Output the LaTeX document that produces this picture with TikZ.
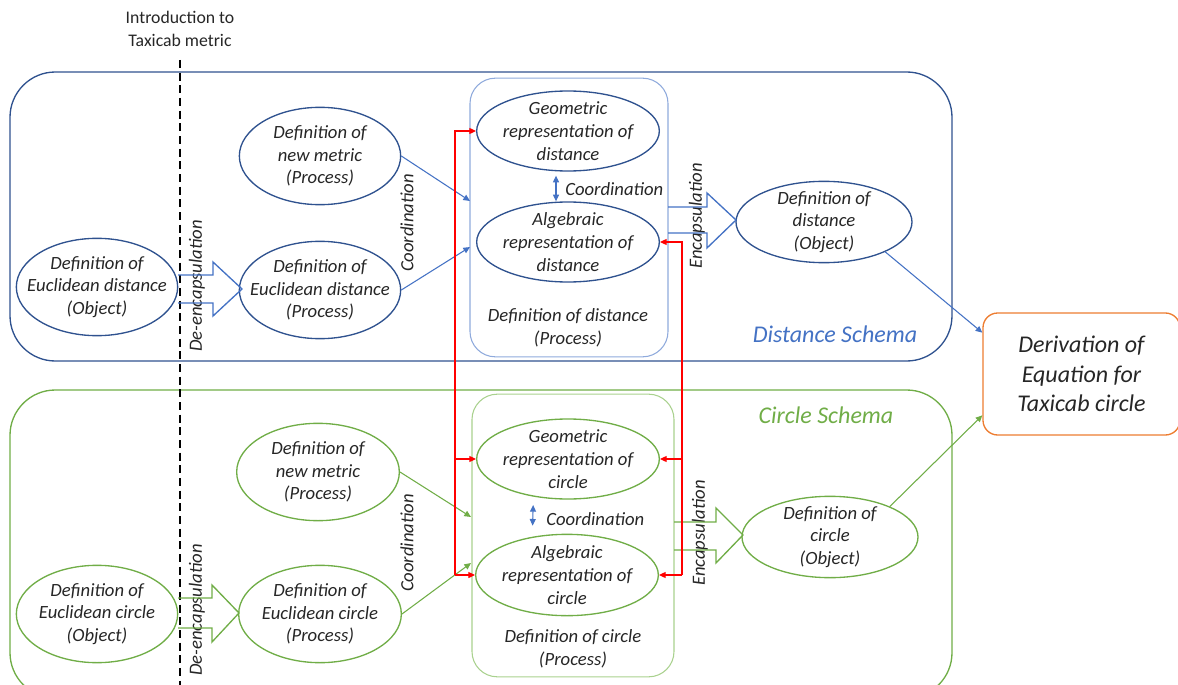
\documentclass[tikz,border=0pt]{standalone}
\usepackage{fontspec}
\setmainfont{Carlito}
\usetikzlibrary{arrows.meta,positioning,shapes.geometric}
\definecolor{schemablue}{HTML}{2F528F}
\definecolor{lineblue}{HTML}{4472C4}
\definecolor{paleblue}{HTML}{8FAADC}
\definecolor{schemagreen}{HTML}{70AD47}
\definecolor{palegreen}{HTML}{A9D18E}
\definecolor{derivorange}{HTML}{ED7D31}
\definecolor{textgray}{HTML}{262626}

\begin{document}
\begin{tikzpicture}[
        x=0.75pt, y=-0.75pt,
        font=\fontsize{14}{17}\selectfont\itshape,
        text=textgray,
        % Styles
        schema/.style={rectangle, rounded corners=34pt, line width=1pt, minimum width=706.5pt},
        inbox/.style={rectangle, rounded corners=19pt, line width=0.8pt},
        bigell/.style={ellipse, line width=1pt, align=center, inner sep=-12pt, minimum width=121pt, minimum height=73pt},
        repell/.style={ellipse, line width=1pt, align=center, inner sep=-12pt, minimum width=137pt, minimum height=60pt},
        objell/.style={ellipse, line width=1pt, align=center, inner sep=-12pt, minimum width=132pt, minimum height=61pt},
        sidetext/.style={rotate=90, inner sep=0pt},
        schemalabel/.style={font=\fontsize{18}{22}\selectfont\itshape},
        arrow/.style={line width=0.8pt, -{Triangle[length=5pt,width=4.5pt]}},
        twoway/.style={line width=0.8pt, {Triangle[length=5pt,width=4.5pt]}-{Triangle[length=5pt,width=4.5pt]}},
        redarrow/.style={line width=0.9pt, red, -{Triangle[length=5pt,width=4.5pt]}},
        blockarrow/.style={line width=1pt, line join=miter}
    ]
    \useasboundingbox (0,0) rectangle (1178,685);

    % Schema boxes
    \node (distschema) [schema, draw=schemablue, minimum height=216.75pt] at (481,216.5) {};
    \node (circschema) [schema, draw=schemagreen, minimum height=231pt] at (481,544) {};
    \node (distlabel) [schemalabel, text=lineblue] at (835,334) {Distance Schema};
    \node (circlabel) [schemalabel, text=schemagreen] at (826,415) {Circle Schema};

    % Introduction line
    \node (intro) [font=\fontsize{13.3}{17.3}\selectfont\upshape, align=center] at (180,29) {Introduction to\\Taxicab metric};
    \coordinate (dashtop) at (180,60);
    \coordinate (dashbot) at (180,690);
    \draw [line width=0.9pt, dash pattern=on 6pt off 3.5pt] (dashtop) -- (dashbot);

    % Process boxes
    \node (distproc) [inbox, draw=paleblue, minimum width=148.5pt, minimum height=209pt] at (569,217.5) {};
    \node (circproc) [inbox, draw=palegreen, minimum width=151.5pt, minimum height=212pt] at (573,535.5) {};
    \node (distproclabel) [align=center] at (568,328) {Definition of distance\\(Process)};
    \node (circproclabel) [align=center] at (573,649) {Definition of circle\\(Process)};

    % Distance nodes
    \node (edobj) [bigell, draw=schemablue] at (97,287) {Definition of\\Euclidean distance\\(Object)};
    \node (dmetric) [bigell, draw=schemablue] at (320,156) {Definition of\\new metric\\(Process)};
    \node (edproc) [bigell, draw=schemablue] at (320,290) {Definition of\\Euclidean distance\\(Process)};
    \node (dgeo) [repell, draw=schemablue] at (568,131) {Geometric\\representation of\\distance};
    \node (dalg) [repell, draw=schemablue] at (568,242) {Algebraic\\representation of\\distance};
    \node (dobj) [objell, draw=schemablue] at (824,222) {Definition of\\distance\\(Object)};

    % Circle nodes
    \node (ecobj) [bigell, draw=schemagreen] at (97,614) {Definition of\\Euclidean circle\\(Object)};
    \node (cmetric) [bigell, draw=schemagreen, minimum width=122pt] at (318,472) {Definition of\\new metric\\(Process)};
    \node (ecproc) [bigell, draw=schemagreen, minimum width=122pt] at (320,614) {Definition of\\Euclidean circle\\(Process)};
    \node (cgeo) [repell, draw=schemagreen] at (568,459) {Geometric\\representation of\\circle};
    \node (calg) [repell, draw=schemagreen, minimum height=61pt] at (567,575) {Algebraic\\representation of\\circle};
    \node (cobj) [objell, draw=schemagreen] at (830,537) {Definition of\\circle\\(Object)};

    % Derivation
    \node (deriv) [rectangle, rounded corners=11pt, draw=derivorange, line width=1pt, minimum width=147.75pt, minimum height=91.5pt, align=center, font=\fontsize{18}{22}\selectfont\itshape] at (1081.5,374) {Derivation of\\Equation for\\Taxicab circle};

    % Side labels
    \node (dde) [sidetext] at (197,286) {De-encapsulation};
    \node (dcoord) [sidetext] at (407,223) {Coordination};
    \node (denc) [sidetext] at (697,216) {Encapsulation};
    \node (cde) [sidetext] at (197,610) {De-encapsulation};
    \node (ccoord) [sidetext] at (407,543) {Coordination};
    \node (cenc) [sidetext] at (700,533) {Encapsulation};
    \node (dcoordin) [anchor=west, inner sep=0pt] at (565,189) {Coordination};
    \node (ccoordin) [anchor=west, inner sep=0pt] at (546,519) {Coordination};

    % Block arrows
    \draw [blockarrow, lineblue] (178,275) -- (213,275) -- (213,262) -- (242,289) -- (213,316) -- (213,303) -- (178,303);
    \draw [blockarrow, lineblue] (668,207) -- (707,207) -- (707,193) -- (736,220) -- (707,248) -- (707,233) -- (668,233);
    \draw [blockarrow, schemagreen] (178,598) -- (212,598) -- (212,585) -- (239,613) -- (212,642) -- (212,628) -- (178,628);
    \draw [blockarrow, schemagreen] (674,522) -- (716,522) -- (716,508) -- (743,535) -- (716,563) -- (716,550) -- (674,550);

    % Coordination arrows
    \coordinate (dinA) at (470,201);
    \coordinate (dinB) at (470,247);
    \coordinate (cinA) at (471,517);
    \coordinate (cinB) at (471,563);
    \draw [arrow, lineblue] (dmetric.east) -- (dinA);
    \draw [arrow, lineblue] (edproc.east) -- (dinB);
    \draw [arrow, schemagreen] (cmetric.east) -- (cinA);
    \draw [arrow, schemagreen] (ecproc.east) -- (cinB);
    \draw [twoway, lineblue, shorten <=3pt] ([xshift=-9pt]dgeo.south) -- ([xshift=-9pt]dalg.north);
    \draw [twoway, lineblue, shorten <=4pt, shorten >=6pt] ([xshift=-26pt]cgeo.south) -- ([xshift=-26pt]calg.north);

    % Red links
    \coordinate (redL) at (455,575);
    \coordinate (redR) at (682,575);
    \draw [redarrow] (redL) |- (dgeo.west);
    \draw [redarrow] (redL) |- (cgeo.west);
    \draw [redarrow] (redL) -- (calg.west);
    \draw [redarrow] (redR) |- (dalg.east);
    \draw [redarrow] (redR) |- (cgeo.east);
    \draw [redarrow] (redR) -- (calg.east);

    % To derivation
    \draw [arrow, lineblue] (dobj.-26) -- ([yshift=31pt]deriv.west);
    \draw [arrow, schemagreen] (cobj.27) -- ([yshift=-31pt]deriv.west);

\end{tikzpicture}
\end{document}
